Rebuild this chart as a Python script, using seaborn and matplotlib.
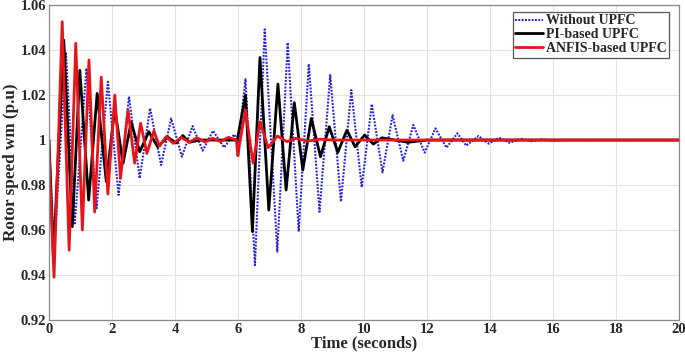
import numpy as np
import pandas as pd
import seaborn as sns
import matplotlib.pyplot as plt

# extrema (time in s, rotor speed in p.u)
t_without = [0.0, 0.16, 0.54, 0.82, 1.19, 1.51, 1.87, 2.21, 2.54, 2.88, 3.21, 3.56, 3.88, 4.22, 4.56,
             4.88, 5.21, 5.56, 5.88, 6.02, 6.24, 6.54, 6.85, 7.25, 7.58, 7.93, 8.25, 8.59, 8.93, 9.27,
             9.60, 9.93, 10.25, 10.59, 10.91, 11.25, 11.57, 11.93, 12.27, 12.62, 12.97, 13.25, 13.64,
             13.96, 14.30, 14.62, 15.0, 15.3, 15.65, 16.0, 16.4, 20.0]
w_without = [1.0, 0.950, 1.039, 0.963, 1.0319, 0.9696, 1.0259, 0.9756, 1.0193, 0.983, 1.0141, 0.9889,
             1.0096, 0.9926, 1.0062, 0.9953, 1.0041, 0.9967, 1.0025, 0.999, 1.0271, 0.9444, 1.0492,
             0.9504, 1.0433, 0.9593, 1.0338, 0.9681, 1.0289, 0.9726, 1.0222, 0.979, 1.016, 0.9856,
             1.0111, 0.9908, 1.0067, 0.9944, 1.0052, 0.9966, 1.003, 0.9975, 1.0018, 0.9984, 1.001,
             0.9988, 1.0005, 0.9995, 1.0003, 0.9997, 1.0, 1.0]

t_pi = [0.0, 0.14, 0.47, 0.74, 0.98, 1.26, 1.53, 1.82, 2.09, 2.35, 2.61, 2.88, 3.17, 3.45, 3.77, 4.03,
        4.25, 4.45, 4.8, 5.98, 6.24, 6.46, 6.70, 6.98, 7.27, 7.53, 7.79, 8.06, 8.33, 8.62, 8.90, 9.17,
        9.46, 9.72, 10.02, 10.30, 10.57, 11.4, 12.0, 20.0]
w_pi = [1.0, 0.948, 1.0444, 0.9615, 1.031, 0.9733, 1.0207, 0.9815, 1.014, 0.9896, 1.0079, 0.9948,
        1.0037, 0.997, 1.0013, 0.9987, 1.002, 0.999, 1.0, 1.0, 1.020, 0.9593, 1.0367, 0.9689, 1.0249,
        0.9778, 1.0166, 0.9867, 1.0096, 0.9926, 1.0059, 0.9945, 1.0044, 0.997, 1.0022, 0.9982, 1.001,
        0.999, 1.0, 1.0]

t_anfis = [0.0, 0.02, 0.16, 0.42, 0.64, 0.85, 1.06, 1.27, 1.45, 1.66, 1.87, 2.09, 2.27, 2.51, 2.72,
           2.91, 3.11, 3.33, 3.51, 3.72, 3.95, 4.2, 4.45, 4.7, 4.95, 5.2, 5.45, 5.7, 5.95, 6.0, 6.05,
           6.24, 6.48, 6.70, 6.96, 7.25, 7.56, 7.85, 8.2, 8.6, 9.0, 20.0]
w_anfis = [1.0, 0.986, 0.939, 1.0526, 0.951, 1.043, 0.960, 1.0356, 0.968, 1.028, 0.976, 1.020, 0.983,
           1.0133, 0.9897, 1.0075, 0.994, 1.004, 0.9973, 1.0015, 0.9985, 1.0012, 0.999, 1.001, 0.9992,
           1.0008, 0.9993, 1.0012, 1.0, 0.993, 0.998, 1.0133, 0.9897, 1.0081, 0.9966, 1.0018, 0.9993,
           1.0008, 0.9995, 1.0004, 1.0, 1.0]

sns.set_style("whitegrid")
plt.rcParams['font.family'] = ['Liberation Serif', 'DejaVu Serif']
plt.rcParams['font.weight'] = 'bold'

fig, ax = plt.subplots(figsize=(6.85, 3.62), dpi=100)
fig.subplots_adjust(left=0.0715, right=0.991, top=0.986, bottom=0.116)

sns.lineplot(x=t_without, y=w_without, ax=ax, color='#2323d8', linestyle=(0, (0.9, 0.7)),
             linewidth=1.5, label='Without UPFC', sort=False)
sns.lineplot(x=t_pi, y=w_pi, ax=ax, color='black', linewidth=2.0, label='PI-based UPFC', sort=False)
sns.lineplot(x=t_anfis, y=w_anfis, ax=ax, color='#e8141a', linewidth=2.0, label='ANFIS-based UPFC',
             sort=False)

ax.set_xlim(0, 20)
ax.set_ylim(0.92, 1.06)
ax.set_xticks(np.arange(0, 21, 2))
yt = np.round(np.arange(0.92, 1.0601, 0.02), 2)
ax.set_yticks(yt)
ax.set_yticklabels(['1' if v == 1.0 else f'{v:g}' for v in yt])
ax.tick_params(labelsize=10.5, direction='in', length=3, color='#666666', pad=2)
for lab in ax.get_xticklabels() + ax.get_yticklabels():
    lab.set_fontweight('bold')
ax.grid(True, color='#e3e3e3', linewidth=0.8)
for s in ax.spines.values():
    s.set_color('#888888')
    s.set_linewidth(0.9)

ax.set_xlabel('Time (seconds)', fontsize=12, fontweight='bold', labelpad=0)
ax.set_ylabel('Rotor speed wm (p.u)', fontsize=12.3, fontweight='bold', labelpad=1)

leg = ax.legend(loc='upper right', bbox_to_anchor=(0.985, 0.979), fancybox=False, framealpha=1,
                edgecolor='#555555', fontsize=10, handlelength=2.0, handletextpad=0.2,
                borderpad=0.2, labelspacing=0.05, borderaxespad=0)
leg.get_frame().set_linewidth(0.9)
for txt in leg.get_texts():
    txt.set_fontweight('bold')

fig.savefig('out.png', dpi=100)
